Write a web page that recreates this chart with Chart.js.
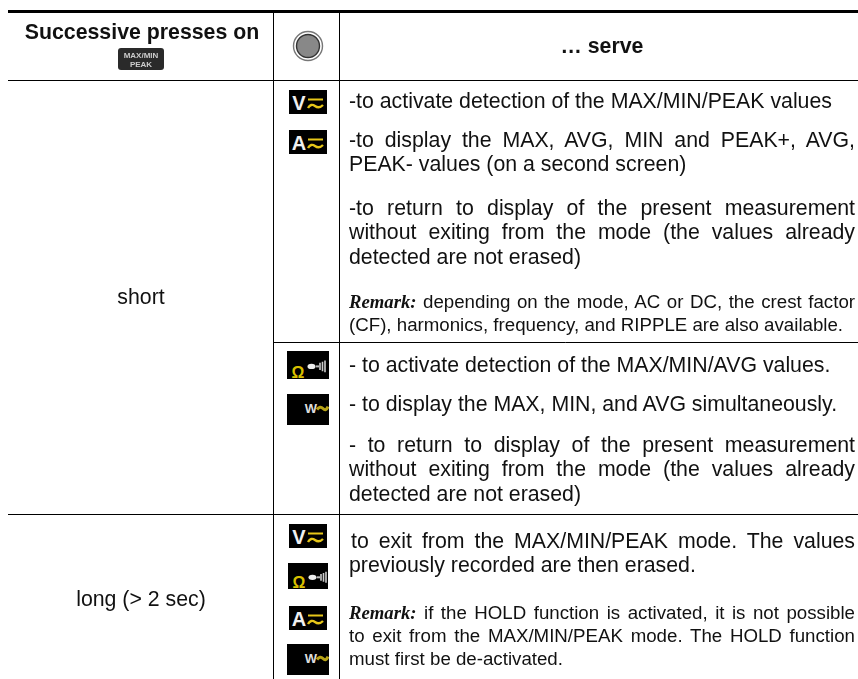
<!DOCTYPE html>
<html>
<head>
<meta charset="utf-8">
<title>MAX/MIN/PEAK presses</title>
<script src="https://cdn.jsdelivr.net/npm/chart.js@4"></script>
<style>
html,body{margin:0;padding:0;background:#fff;}
#page{position:relative;width:858px;height:679px;overflow:hidden;font-family:"Liberation Sans",Arial,sans-serif;color:#111;}
#rules{position:absolute;left:0;top:0;}
.cell{position:absolute;text-align:center;white-space:nowrap;font-size:21.3px;line-height:24.5px;}
.head{font-weight:bold;}
.para{position:absolute;left:349px;width:506px;font-size:21.3px;line-height:24.5px;text-align:justify;}
.para.small{font-size:18.7px;line-height:23px;}
.para b{font-family:"Liberation Serif",serif;font-style:italic;font-size:18.7px;}
.para span{display:block;text-align-last:justify;}
.para span:last-child{text-align-last:left;}
svg.icon{position:absolute;}
</style>
</head>
<body>
<div id="page">
<canvas id="rules" width="858" height="679"></canvas>
</div>
<script>
'use strict';

// table text
const headers = ['Successive presses on', '… serve'];
const pressTypes = ['short', 'long (> 2 sec)'];
const shortVoltage = [
  '-to activate detection of the MAX/MIN/PEAK values',
  '-to display the MAX, AVG, MIN and PEAK+, AVG, PEAK- values (on a second screen)',
  '-to return to display of the present measurement without exiting from the mode (the values already detected are not erased)'
];
const shortVoltageRemark = ['depending on the mode, AC or DC, the crest factor', '(CF), harmonics, frequency, and RIPPLE are also available.'];
const shortOhm = [
  '- to activate detection of the MAX/MIN/AVG values.',
  '- to display the MAX, MIN, and AVG simultaneously.',
  '- to return to display of the present measurement without exiting from the mode (the values already detected are not erased)'
];
const longPress = 'to exit from the MAX/MIN/PEAK mode. The values previously recorded are then erased.';
const longPressRemark = ['if the HOLD function is activated, it is not possible', 'to exit from the MAX/MIN/PEAK mode. The HOLD function', 'must first be de-activated.'];

// table rules, in page units
const colEdges = [8, 273.5, 339.5, 858];
const rowEdges = [11.5, 80.5, 342.5, 514.5, 679];

const page = document.getElementById('page');

function rule(x1, y1, x2, y2, width) {
  return {
    data: [{x: x1, y: y1}, {x: x2, y: y2}],
    showLine: true,
    borderColor: '#000',
    borderWidth: width,
    pointRadius: 0
  };
}

const ruleSets = [
  rule(colEdges[0], rowEdges[0], colEdges[3], rowEdges[0], 3),
  rule(colEdges[0], rowEdges[1], colEdges[3], rowEdges[1], 1),
  rule(colEdges[1], rowEdges[2], colEdges[3], rowEdges[2], 1),
  rule(colEdges[0], rowEdges[3], colEdges[3], rowEdges[3], 1),
  rule(colEdges[1], rowEdges[0], colEdges[1], rowEdges[4], 1),
  rule(colEdges[2], rowEdges[0], colEdges[2], rowEdges[4], 1)
];

new Chart(document.getElementById('rules'), {
  type: 'scatter',
  data: {datasets: ruleSets},
  options: {
    responsive: false,
    animation: false,
    layout: {padding: 0},
    plugins: {legend: {display: false}, tooltip: {enabled: false}},
    scales: {
      x: {type: 'linear', min: 0, max: 858, display: false},
      y: {type: 'linear', min: 0, max: 679, reverse: true, display: false}
    }
  }
});

function addCell(cls, text, cx, top) {
  const d = document.createElement('div');
  d.className = 'cell ' + cls;
  d.textContent = text;
  d.style.left = (cx - 200) + 'px';
  d.style.width = '400px';
  d.style.top = top + 'px';
  page.appendChild(d);
}

function addPara(text, top, indent) {
  const d = document.createElement('div');
  d.className = 'para';
  d.style.top = top + 'px';
  if (indent) d.style.textIndent = indent + 'px';
  d.textContent = text;
  page.appendChild(d);
}

function addRemark(lines, top) {
  const d = document.createElement('div');
  d.className = 'para small';
  d.style.top = top + 'px';
  lines.forEach(function (line, i) {
    const s = document.createElement('span');
    if (i === 0) {
      const b = document.createElement('b');
      b.textContent = 'Remark:';
      s.appendChild(b);
      s.appendChild(document.createTextNode(' ' + line));
    } else {
      s.textContent = line;
    }
    d.appendChild(s);
  });
  page.appendChild(d);
}

function addSvg(x, y, w, h, inner) {
  const holder = document.createElement('div');
  holder.innerHTML = '<svg class="icon" xmlns="http://www.w3.org/2000/svg" style="left:' + x + 'px;top:' + y +
    'px" width="' + w + '" height="' + h + '" viewBox="0 0 ' + w + ' ' + h + '">' + inner + '</svg>';
  page.appendChild(holder.firstChild);
}

function letterIcon(letter, x, y) {
  addSvg(x, y, 38, 24, '<rect width="38" height="24" fill="#000"/>' +
    '<text x="10" y="20" text-anchor="middle" font-family="Liberation Sans" font-weight="bold" font-size="20" fill="#f0f0f0">' + letter + '</text>' +
    '<rect x="19" y="8.5" width="15" height="2" fill="#e6c619"/>' +
    '<path transform="translate(19,13)" d="M0 5 Q3 0 7 3 T15 2" fill="none" stroke="#e6c619" stroke-width="2.4"/>');
}

function ohmIcon(x, y, w, h) {
  addSvg(x, y, w, h, '<rect width="' + w + '" height="' + h + '" fill="#000"/>' +
    '<text x="11" y="' + (h - 1.5) + '" text-anchor="middle" font-family="Liberation Sans" font-weight="bold" font-size="16" fill="#d9c000">Ω</text>' +
    '<ellipse cx="24.5" cy="' + (h * 0.55) + '" rx="4" ry="2.6" fill="#eee"/>' +
    '<path d="M29 ' + (h * 0.55) + 'h3" stroke="#bbb" stroke-width="2"/>' +
    '<path d="M33 ' + (h * 0.42) + 'v' + (h * 0.26) + 'M35.5 ' + (h * 0.38) + 'v' + (h * 0.34) + 'M38 ' + (h * 0.34) + 'v' + (h * 0.42) + '" stroke="#ccc" stroke-width="1.6"/>');
}

function wattIcon(x, y, w, h) {
  addSvg(x, y, w, h, '<rect width="' + w + '" height="' + h + '" fill="#000"/>' +
    '<text x="' + (w - 18) + '" y="' + (h * 0.62) + '" text-anchor="middle" font-family="Liberation Sans" font-weight="bold" font-size="13" fill="#ddd">W</text>' +
    '<path d="M' + (w - 12) + ' ' + (h * 0.5) + 'q3 -4 6 -1 t5 -2" fill="none" stroke="#b8a417" stroke-width="3"/>');
}

// header
addCell('head', headers[0], 142, 20);
addCell('head', headers[1], 602, 34);
addCell('', pressTypes[0], 141, 284.5);
addCell('', pressTypes[1], 141, 587);

addSvg(118, 48, 46, 22, '<rect width="46" height="22" rx="3" fill="#2a2a2a"/>' +
  '<text x="23" y="10" text-anchor="middle" font-family="Liberation Sans" font-weight="bold" font-size="8" fill="#ccc">MAX/MIN</text>' +
  '<text x="23" y="19" text-anchor="middle" font-family="Liberation Sans" font-weight="bold" font-size="8" fill="#ccc">PEAK</text>');
addSvg(292, 30, 32, 32, '<circle cx="16" cy="16" r="14.5" fill="#fff" stroke="#777" stroke-width="1.4"/>' +
  '<circle cx="16" cy="16" r="11.5" fill="#888" stroke="#333" stroke-width="1.4"/>');

// short press, voltage / current
letterIcon('V', 289, 90);
letterIcon('A', 289, 130);
addPara(shortVoltage[0], 88.5);
addPara(shortVoltage[1], 127.5);
addPara(shortVoltage[2], 195.5);
addRemark(shortVoltageRemark, 290);

// short press, ohm / watt
ohmIcon(287, 351, 42, 28);
wattIcon(287, 394, 42, 31);
addPara(shortOhm[0], 352.5);
addPara(shortOhm[1], 391.5);
addPara(shortOhm[2], 432.5);

// long press
letterIcon('V', 289, 524);
ohmIcon(288, 563, 40, 26);
letterIcon('A', 289, 606);
wattIcon(287, 644, 42, 31);
addPara(longPress, 528.5, 2);
addRemark(longPressRemark, 601);
</script>
</body>
</html>
